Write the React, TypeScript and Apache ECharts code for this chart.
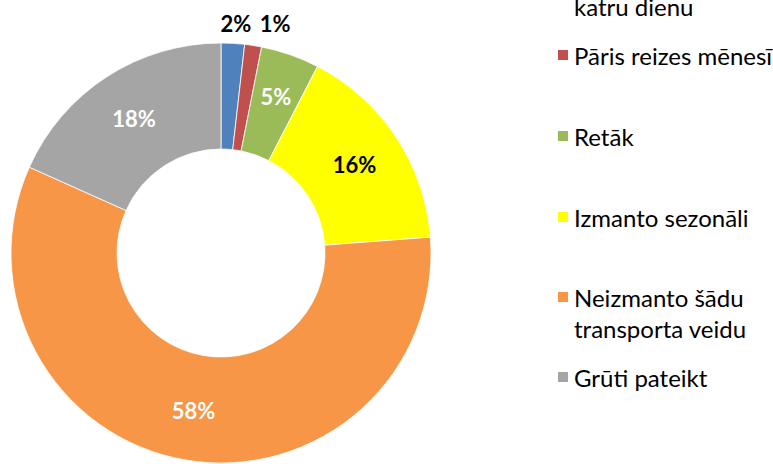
import React, { useEffect, useRef } from "react";
import * as echarts from "echarts";

const categories = [
  "Katru dienu vai gandrīz\nkatru dienu",
  "Pāris reizes mēnesī",
  "Retāk",
  "Izmanto sezonāli",
  "Neizmanto šādu\ntransporta veidu",
  "Grūti pateikt",
];
const values = [1.8, 1.3, 4.5, 16.2, 57.9, 18.3];
const colors = ["#4F81BD", "#C0504D", "#9BBB59", "#FFFF00", "#F79646", "#A5A5A5"];
const labelColors = ["#000", "#000", "#fff", "#000", "#fff", "#fff"];
const outsideIdx = [0, 1];
const legendCenters = [-25, 55, 136, 217, 297, 377];

const FONT = "Lato";

export default function App() {
  const ref = useRef<HTMLDivElement>(null);
  useEffect(() => {
    if (!ref.current) return;
    const chart = echarts.init(ref.current, undefined, { renderer: "svg" });
    const LH = 31;
    const legends = categories.map((name, i) => {
      const multi = name.includes("\n");
      return {
        data: [name],
        orient: "vertical",
        left: 556,
        top: multi ? legendCenters[i] - LH * 1.5 : legendCenters[i] - LH / 2,
        icon: "rect",
        itemWidth: 12,
        itemHeight: 12,
        itemGap: 0,
        padding: 0,
        selectedMode: false,
        formatter: (n: string) => (n.includes("\n") ? " \n" + n : n),
        textStyle: {
          fontFamily: FONT,
          fontSize: 24,
          color: "#000",
          lineHeight: LH,
        },
      };
    });
    chart.setOption({
      animation: false,
      legend: legends,
      series: [
        {
          type: "pie",
          center: [221, 253],
          radius: [104, 210],
          startAngle: 90,
          clockwise: true,
          avoidLabelOverlap: false,
          itemStyle: { borderColor: "#fff", borderWidth: 0.8 },
          label: {
            position: "inside",
            fontFamily: FONT,
            fontSize: 22,
            fontWeight: "bold",
          },
          labelLayout: (p: any) => {
            if (p.dataIndex === 0) return { dx: -18, dy: -10 };
            if (p.dataIndex === 1) return { dx: 0, dy: -12 };
            if (p.dataIndex === 2) return { dx: 2, dy: -5 };
            return {};
          },
          data: categories.map((name, i) => ({
            name,
            value: values[i],
            itemStyle: { color: colors[i] },
            label: {
              color: labelColors[i],
              position: outsideIdx.includes(i) ? "outside" : "inside",
              formatter: () => Math.round(values[i]) + "%",
            },
            labelLine: { show: false, length: 10, length2: 0 },
          })),
        },
      ],
    });
    return () => chart.dispose();
  }, []);
  return (
    <div
      ref={ref}
      style={{ position: "fixed", left: 0, top: 0, width: 773, height: 464, background: "#fff" }}
    />
  );
}
